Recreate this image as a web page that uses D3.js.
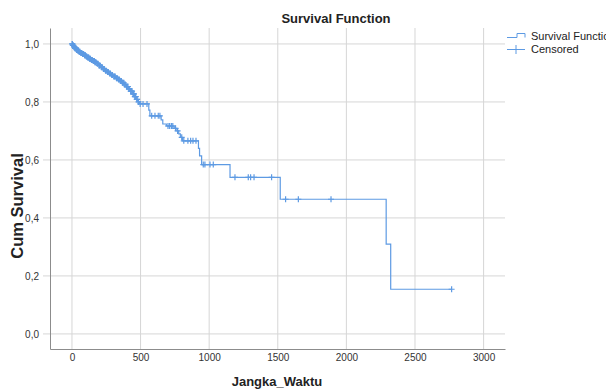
<!DOCTYPE html>
<html>
<head>
<meta charset="utf-8">
<script src="https://cdn.jsdelivr.net/npm/d3@7"></script>
<style>
html,body{margin:0;padding:0;background:#fff;overflow:hidden;}
svg{display:block;font-family:"Liberation Sans",Arial,sans-serif;}
</style>
</head>
<body>
<svg id="chart" width="606" height="391"></svg>
<script>
// Event times (Jangka_Waktu) and cumulative survival after each event
const eventTimes = [5,12,20,30,40,50,62,75,88,100,112,125,138,150,165,180,195,210,225,240,255,270,285,300,318,335,350,365,380,395,410,425,440,455,468,480,492,560,568,650,662,688,745,765,778,790,805,922,930,945,1152,1518,2290,2323];
const eventSurv  = [0.995,0.990,0.985,0.980,0.977,0.973,0.969,0.965,0.961,0.957,0.953,0.949,0.945,0.941,0.937,0.932,0.926,0.920,0.914,0.908,0.903,0.898,0.893,0.888,0.882,0.877,0.872,0.866,0.860,0.853,0.845,0.837,0.828,0.818,0.809,0.800,0.793,0.772,0.752,0.738,0.724,0.717,0.709,0.700,0.690,0.678,0.666,0.640,0.614,0.584,0.540,0.4645,0.310,0.154];
// Censored observation times
const censorTimes = [2,3,6,8,10,15,18,22,25,28,33,35,38,42,45,48,52,55,58,65,68,72,78,80,85,92,95,98,105,108,115,118,122,128,130,135,142,145,148,155,158,160,163,168,170,175,185,190,198,200,205,215,220,230,235,245,250,260,265,275,280,290,295,305,310,315,325,330,340,345,355,360,368,372,378,385,388,398,402,408,415,418,428,432,438,445,448,452,458,462,465,472,475,485,497,518,547,581,605,629,641,700,712,725,735,755,770,800,815,845,865,882,904,957,969,1006,1030,1188,1285,1302,1327,1455,1557,1650,1888,2767];
const xTicks = [0,500,1000,1500,2000,2500,3000];
const yTicks = [0,0.2,0.4,0.6,0.8,1.0];
const legendLabels = ["Survival Function","Censored"];

const svg = d3.select("#chart");
const blue = "#5d9ae3";
const pLeft = 50, pRight = 505, pTop = 28, pBottom = 349;

const x = d3.scaleLinear().domain([-160, 3156]).range([pLeft, pRight]);
const y = d3.scaleLinear().domain([-0.052, 1.055]).range([pBottom, pTop]);

// gridlines
const grid = svg.append("g");
grid.selectAll("line.v").data(xTicks).join("line")
  .attr("x1", d => x(d)).attr("x2", d => x(d))
  .attr("y1", pTop).attr("y2", pBottom)
  .attr("stroke", "#d6d6d6").attr("stroke-width", 1);
grid.selectAll("line.h").data(yTicks).join("line")
  .attr("x1", pLeft - 7).attr("x2", pRight)
  .attr("y1", d => y(d)).attr("y2", d => y(d))
  .attr("stroke", "#d6d6d6").attr("stroke-width", 1);

// axes via d3
const xAxis = d3.axisBottom(x).tickValues(xTicks).tickSize(0).tickPadding(5).tickFormat(d3.format("d"));
const yAxis = d3.axisLeft(y).tickValues(yTicks).tickSize(0).tickPadding(10)
  .tickFormat(d => d3.format(".1f")(d).replace(".", ","));

const gx = svg.append("g").attr("transform", `translate(0,${pBottom})`).call(xAxis);
const gy = svg.append("g").attr("transform", `translate(${pLeft},0)`).call(yAxis);
[gx, gy].forEach(g => {
  g.select(".domain").attr("stroke", "#8c8c8c");
  g.selectAll("text").attr("fill", "#333").style("font-size", "10px")
    .style("font-family", "'Liberation Sans',Arial,sans-serif");
});
gy.selectAll("text").attr("x", -11);

// survival step curve
const pts = [[0, 1.0]].concat(eventTimes.map((t, i) => [t, eventSurv[i]]));
pts.push([censorTimes[censorTimes.length - 1], eventSurv[eventSurv.length - 1]]);
const line = d3.line().x(d => x(d[0])).y(d => y(d[1])).curve(d3.curveStepAfter);
svg.append("path").attr("d", line(pts)).attr("fill", "none")
  .attr("stroke", blue).attr("stroke-width", 1.2);

// censored marks
const bis = d3.bisector(d => d).right;
function survAt(t) {
  const i = bis(eventTimes, t);
  return i === 0 ? 1.0 : eventSurv[i - 1];
}
svg.append("g").selectAll("path").data(censorTimes).join("path")
  .attr("d", t => {
    const cx = x(t), cy = y(survAt(t));
    return `M${cx - 3},${cy}h6M${cx},${cy - 3}v6`;
  })
  .attr("stroke", blue).attr("stroke-width", 1.2).attr("fill", "none");

// title
svg.append("text").attr("x", 336).attr("y", 23).attr("text-anchor", "middle")
  .style("font-size", "13px").style("font-weight", "bold").attr("fill", "#222")
  .text("Survival Function");

// axis titles
svg.append("text").attr("x", 277).attr("y", 386).attr("text-anchor", "middle")
  .style("font-size", "13px").style("font-weight", "bold").attr("fill", "#222")
  .text("Jangka_Waktu");
svg.append("text").attr("transform", "translate(23,206) rotate(-90)").attr("text-anchor", "middle")
  .style("font-size", "16.5px").style("font-weight", "bold").attr("fill", "#222")
  .text("Cum Survival");

// legend
const lg = svg.append("g");
lg.append("path").attr("d", "M507,37.5H517V33.5H525V37.5").attr("fill", "none")
  .attr("stroke", blue).attr("stroke-width", 1);
lg.append("path").attr("d", "M507,49.5H525M516,45V54").attr("fill", "none")
  .attr("stroke", blue).attr("stroke-width", 1);
lg.selectAll("text").data(legendLabels).join("text")
  .attr("x", 531).attr("y", (d, i) => 40 + i * 13)
  .style("font-size", "11px").attr("fill", "#222").text(d => d);
</script>
</body>
</html>
